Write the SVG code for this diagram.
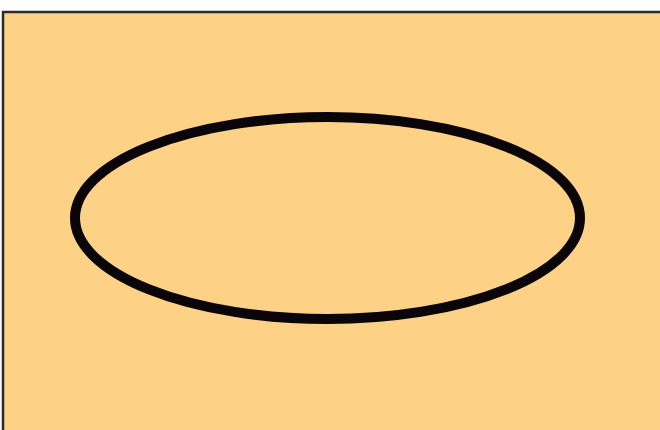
<svg xmlns="http://www.w3.org/2000/svg" width="660" height="430" viewBox="0 0 660 430">
  <style>
    .panel { fill: #FED286; stroke: #2b2b2b; stroke-width: 2.5; }
    .ring { fill: none; stroke: #0a0508; stroke-width: 10; }
  </style>
  <rect x="0" y="0" width="660" height="430" fill="#ffffff"/>
  <g id="panel">
    <rect class="panel" x="3" y="12" width="670" height="430"/>
  </g>
  <g id="ellipse">
    <ellipse class="ring" cx="327.5" cy="218" rx="252.5" ry="101"/>
  </g>
  <g id="connectors"></g>
</svg>
